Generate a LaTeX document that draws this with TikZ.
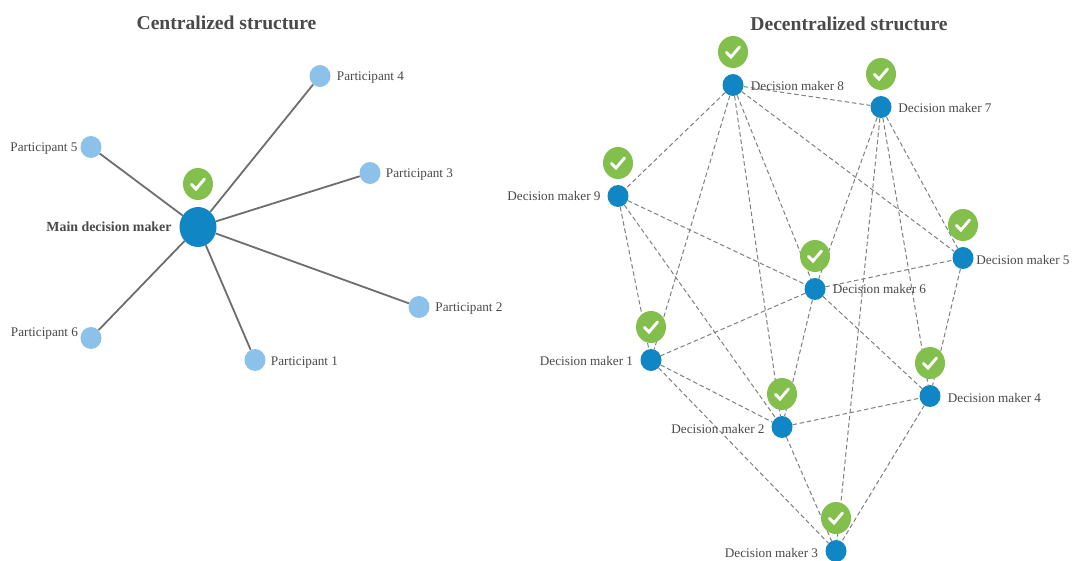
\documentclass[tikz,border=0pt]{standalone}
\usepackage{fontspec}
\setmainfont{Liberation Serif}
\usetikzlibrary{shapes.geometric,backgrounds}
\definecolor{inkgrey}{HTML}{4A4A4A}
\definecolor{hubblue}{HTML}{1087C4}
\definecolor{leafblue}{HTML}{8CC2EA}
\definecolor{okgreen}{HTML}{83BF4C}
\definecolor{edgegrey}{HTML}{6E6E6E}
\definecolor{linkgrey}{HTML}{808080}
\tikzset{
  hub/.style={ellipse,fill=hubblue,inner sep=0pt,minimum width=37pt,minimum height=40pt},
  leaf/.style={ellipse,fill=leafblue,inner sep=0pt,minimum width=21pt,minimum height=22pt},
  maker/.style={ellipse,fill=hubblue,inner sep=0pt,minimum width=21pt,minimum height=22pt},
  okbadge/.style={ellipse,fill=okgreen,inner sep=0pt,minimum width=30pt,minimum height=32pt},
  oktick/.style={draw=white,line width=2.9pt,line cap=round,line join=miter},
  lab/.style={text=inkgrey,font=\fontsize{13.2}{15}\selectfont,inner sep=0pt},
  mainlab/.style={text=inkgrey,font=\fontsize{13.9}{15}\selectfont\bfseries,inner sep=0pt},
  heading/.style={text=inkgrey,font=\fontsize{19.6}{22}\selectfont\bfseries,inner sep=0pt},
  spoke/.style={draw=edgegrey,line width=1.8pt},
  link/.style={draw=linkgrey,line width=1pt,dash pattern=on 4.5pt off 2.8pt}
}
\begin{document}
\begin{tikzpicture}[x=1pt,y=-1pt]
\useasboundingbox (0,0) rectangle (1073,560);
\node[heading] (t1) at (226.5,22.5) {Centralized structure};
\node[heading] (t2) at (849,23.5) {Decentralized structure};
% left
\node[hub] (main) at (198,227) {};
\node[leaf] (p1) at (255,360) {};
\node[leaf] (p2) at (419,307) {};
\node[leaf] (p3) at (370,173) {};
\node[leaf] (p4) at (320,76) {};
\node[leaf] (p5) at (91,147) {};
\node[leaf] (p6) at (91,338) {};
\node[okbadge] (g0) at (198,184) {};
\node[mainlab] (lm) at (109,227) {Main decision maker};
\node[lab] (l1) at (304.5,363) {Participant 1};
\node[lab] (l2) at (469,309) {Participant 2};
\node[lab] (l3) at (419.5,174.5) {Participant 3};
\node[lab] (l4) at (370.5,78) {Participant 4};
\node[lab] (l5) at (44,148.5) {Participant 5};
\node[lab] (l6) at (44.5,333.5) {Participant 6};
% right
\node[maker] (d1) at (651,360) {};
\node[maker] (d2) at (782,427) {};
\node[maker] (d3) at (836,551) {};
\node[maker] (d4) at (930,396) {};
\node[maker] (d5) at (963,258) {};
\node[maker] (d6) at (815,289) {};
\node[maker] (d7) at (881,107) {};
\node[maker] (d8) at (733,85) {};
\node[maker] (d9) at (618,196) {};
\node[okbadge] (g1) at (651,327) {};
\node[okbadge] (g2) at (782,394) {};
\node[okbadge] (g3) at (836,518) {};
\node[okbadge] (g4) at (930,363) {};
\node[okbadge] (g5) at (963,225) {};
\node[okbadge] (g6) at (815,256) {};
\node[okbadge] (g7) at (881,74) {};
\node[okbadge] (g8) at (733,52) {};
\node[okbadge] (g9) at (618,163) {};
\node[lab] (n1) at (586.5,361) {Decision maker 1};
\node[lab] (n2) at (718,429) {Decision maker 2};
\node[lab] (n3) at (771.5,553) {Decision maker 3};
\node[lab] (n4) at (994.5,397.5) {Decision maker 4};
\node[lab] (n5) at (1023,260) {Decision maker 5};
\node[lab] (n6) at (879.5,289) {Decision maker 6};
\node[lab] (n7) at (945,108) {Decision maker 7};
\node[lab] (n8) at (797.5,86) {Decision maker 8};
\node[lab] (n9) at (554,196) {Decision maker 9};
\foreach \g in {g0,g1,g2,g3,g4,g5,g6,g7,g8,g9}
  \draw[oktick] ([shift={(-6.5,0.5)}]\g.center) -- ([shift={(-2,5)}]\g.center) -- ([shift={(6.5,-5)}]\g.center);
\begin{scope}[on background layer]
\fill[white] (0,0) rectangle (1073,560);
\foreach \p in {p1,p2,p3,p4,p5,p6}
  \draw[spoke] (main) -- (\p);
\foreach \a/\b in {d8/d9,d8/d7,d8/d5,d8/d6,d8/d2,d8/d1,d7/d6,d7/d3,d7/d4,d7/d5,d9/d6,d9/d1,d9/d2,d6/d5,d6/d1,d6/d2,d6/d4,d5/d4,d1/d2,d1/d3,d2/d4,d2/d3,d4/d3}
  \draw[link] (\a) -- (\b);
\end{scope}
\end{tikzpicture}
\end{document}
